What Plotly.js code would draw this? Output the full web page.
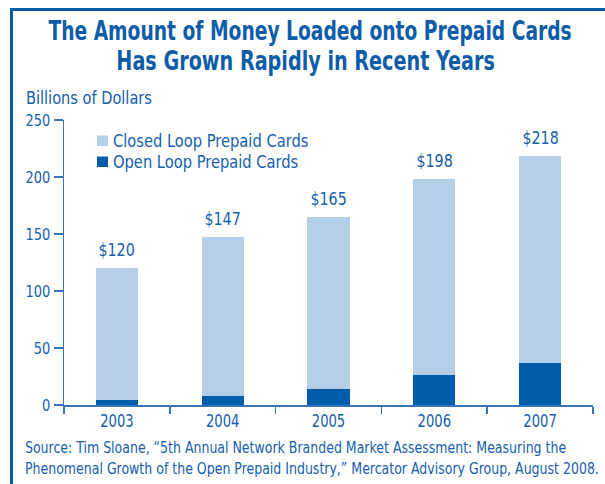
<!DOCTYPE html>
<html>
<head>
<meta charset="utf-8">
<script src="https://cdn.plot.ly/plotly-3.0.1.min.js"></script>
<style>
html,body{margin:0;padding:0;background:#fff;}
#chart{width:605px;height:484px;}
</style>
</head>
<body>
<div id="chart"></div>
<script>
// ---- data ----
const years = ["2003", "2004", "2005", "2006", "2007"];
const totals = [120, 147, 165, 198, 218];
const openLoop = [4, 8, 14, 26, 37];
const closedLoop = [116, 139, 151, 172, 181];
const totalLabels = ["$120", "$147", "$165", "$198", "$218"];
const seriesNames = ["Closed Loop Prepaid Cards", "Open Loop Prepaid Cards"];
const yTicks = [0, 50, 100, 150, 200, 250];
const titleLines = ["The Amount of Money Loaded onto Prepaid Cards", "Has Grown Rapidly in Recent Years"];
const unitLabel = "Billions of Dollars";
const sourceLines = [
  "Source: Tim Sloane, \u201c5th Annual Network Branded Market Assessment: Measuring the",
  "Phenomenal Growth of the Open Prepaid Industry,\u201d Mercator Advisory Group, August 2008."
];

// ---- styles ----
const FONT = '"DejaVu Sans Condensed", "DejaVu Sans", "Liberation Sans", sans-serif';
const TEXT = '#1560ac';
const TITLE = '#0f5ca8';
const DARK = '#005dab';
const LIGHT = '#b5cee7';
const AXIS = '#3a74b8';

const W = 605, H = 484;
const M = {l: 64, r: 12, t: 120, b: 79};
const PW = W - M.l - M.r, PH = H - M.t - M.b;
const px = x => (x - M.l) / PW;
const py = y => (H - M.b - y) / PH;

const traces = [
  {type: 'bar', name: seriesNames[1], x: years, y: openLoop, width: 0.4,
   marker: {color: DARK, line: {width: 0}}},
  {type: 'bar', name: seriesNames[0], x: years, y: closedLoop, width: 0.4,
   marker: {color: LIGHT, line: {width: 0}}}
];

// annotation list with horizontal condense factors
const annotations = [];
const squeeze = [];
function addAnn(a, s) { annotations.push(a); squeeze.push(s); }

years.forEach((yr, i) => addAnn({
  x: i, y: totals[i], xref: 'x', yref: 'y', text: totalLabels[i],
  showarrow: false, yanchor: 'bottom', yshift: 6,
  font: {family: FONT, size: 18, color: TEXT}
}, 0.88));

addAnn({xref: 'paper', yref: 'paper', x: px(310), y: py(31), xanchor: 'center', yanchor: 'middle',
  text: '<b>' + titleLines[0] + '</b>', showarrow: false,
  font: {family: FONT, size: 27, color: TITLE}}, 0.77);
addAnn({xref: 'paper', yref: 'paper', x: px(305.5), y: py(60), xanchor: 'center', yanchor: 'middle',
  text: '<b>' + titleLines[1] + '</b>', showarrow: false,
  font: {family: FONT, size: 27, color: TITLE}}, 0.79);
addAnn({xref: 'paper', yref: 'paper', x: px(24), y: py(97), xanchor: 'left', yanchor: 'middle', align: 'left',
  text: unitLabel, showarrow: false, font: {family: FONT, size: 18, color: TEXT}}, 0.9);
addAnn({xref: 'paper', yref: 'paper', x: px(111), y: py(140.5), xanchor: 'left', yanchor: 'middle', align: 'left',
  text: seriesNames[0], showarrow: false, font: {family: FONT, size: 17, color: TEXT}}, 0.96);
addAnn({xref: 'paper', yref: 'paper', x: px(111), y: py(161.5), xanchor: 'left', yanchor: 'middle', align: 'left',
  text: seriesNames[1], showarrow: false, font: {family: FONT, size: 17, color: TEXT}}, 0.96);
addAnn({xref: 'paper', yref: 'paper', x: px(23), y: py(448), xanchor: 'left', yanchor: 'middle', align: 'left',
  text: sourceLines[0], showarrow: false, font: {family: FONT, size: 15.5, color: TEXT}}, 0.9);
addAnn({xref: 'paper', yref: 'paper', x: px(23), y: py(469), xanchor: 'left', yanchor: 'middle', align: 'left',
  text: sourceLines[1], showarrow: false, font: {family: FONT, size: 15.5, color: TEXT}}, 0.9);

const shapes = [
  // frame: top and left rules
  {type: 'line', xref: 'paper', yref: 'paper', x0: px(10), x1: px(606), y0: py(9.5), y1: py(9.5),
   line: {color: DARK, width: 3}},
  {type: 'line', xref: 'paper', yref: 'paper', x0: px(11.5), x1: px(11.5), y0: py(8), y1: py(486),
   line: {color: DARK, width: 3}},
  // legend swatches
  {type: 'rect', xref: 'paper', yref: 'paper', x0: px(97), x1: px(108), y0: py(135.5), y1: py(146),
   fillcolor: LIGHT, line: {width: 0}},
  {type: 'rect', xref: 'paper', yref: 'paper', x0: px(97), x1: px(108), y0: py(156.5), y1: py(167),
   fillcolor: DARK, line: {width: 0}}
];

const layout = {
  width: W, height: H,
  margin: M,
  paper_bgcolor: '#ffffff', plot_bgcolor: '#ffffff',
  barmode: 'stack',
  showlegend: false,
  font: {family: FONT, color: TEXT, size: 16},
  xaxis: {
    type: 'category', range: [-0.5, 4.5],
    showline: true, linecolor: AXIS, linewidth: 2,
    ticks: 'outside', tickson: 'boundaries', ticklen: 7, tickwidth: 1.5, tickcolor: AXIS,
    showgrid: false, zeroline: false, fixedrange: true,
    tickfont: {family: FONT, size: 17, color: TEXT}
  },
  yaxis: {
    range: [0, 250], tickvals: yTicks, ticktext: yTicks.map(String),
    showline: true, linecolor: AXIS, linewidth: 1.5,
    ticks: 'outside', ticklen: 9, tickwidth: 1.5, tickcolor: AXIS,
    showgrid: false, zeroline: false, fixedrange: true,
    tickfont: {family: FONT, size: 16, color: TEXT}
  },
  annotations: annotations,
  shapes: shapes
};

function condense(el, s) {
  const x = parseFloat(el.getAttribute('x') || '0');
  const tr = el.getAttribute('transform') || '';
  el.setAttribute('transform', tr + ' translate(' + x + ',0) scale(' + s + ',1) translate(' + (-x) + ',0)');
}

Plotly.newPlot('chart', traces, layout, {displayModeBar: false, staticPlot: true}).then(gd => {
  gd.querySelectorAll('.xtick text').forEach(t => condense(t, 0.86));
  gd.querySelectorAll('.ytick text').forEach(t => condense(t, 0.9));
  gd.querySelectorAll('g.annotation').forEach(g => {
    const i = parseInt(g.getAttribute('data-index'), 10);
    const t = g.querySelector('text.annotation-text');
    if (t && !isNaN(i)) condense(t, squeeze[i]);
  });
});
</script>
</body>
</html>
